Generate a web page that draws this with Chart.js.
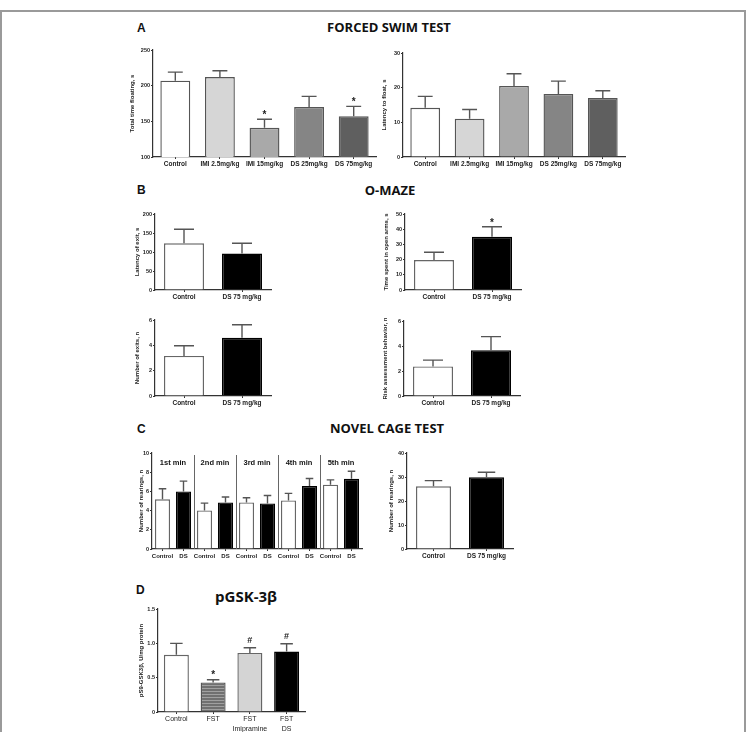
<!DOCTYPE html>
<html lang="en">
<head>
  <meta charset="UTF-8">
  <title>Behaviour panels</title>
  <style>
    body { margin:0; background:#fff; width:746px; height:732px; position:relative; overflow:hidden; font-family:"Liberation Sans", Arial, sans-serif; }
    .frame { position:absolute; left:0; top:10px; width:742px; height:730px; border:2px solid #9a9a9a; border-bottom:none; }
    .lbl { position:absolute; font-weight:bold; font-size:12px; color:#111; transform:translateY(-50%); }
    .ttl { position:absolute; font-family:"Open Sans", sans-serif; font-weight:bold; font-size:13px; color:#111; transform:translate(-50%,-50%); white-space:nowrap; }
  </style>
</head>
<body>
<div class="frame"></div>
<div class="lbl" style="left:137px;top:28px">A</div>
<div class="ttl" style="left:389px;top:27px">FORCED SWIM TEST</div>
<div class="lbl" style="left:137px;top:190px">B</div>
<div class="ttl" style="left:390px;top:190px">O-MAZE</div>
<div class="lbl" style="left:137px;top:429px">C</div>
<div class="ttl" style="left:387px;top:428px">NOVEL CAGE TEST</div>
<div class="lbl" style="left:136px;top:590px">D</div>
<div class="ttl" style="left:246px;top:596px;font-size:15px">pGSK-3β</div>

<script src="https://cdn.jsdelivr.net/npm/chart.js"></script>
<script>
  // ---- data ----
  const fstGroups = ['Control', 'IMI 2.5mg/kg', 'IMI 15mg/kg', 'DS 25mg/kg', 'DS 75mg/kg'];
  const floating = [207, 212, 141, 170, 157];
  const floatingErr = [219, 221, 153, 185, 171];
  const floatingMarks = ['', '', '*', '', '*'];
  const latency = [14.2, 11.0, 20.5, 18.2, 17.0];
  const latencyErr = [17.5, 13.7, 24.0, 21.9, 19.1];

  const mazeGroups = ['Control', 'DS 75 mg/kg'];
  const exitLatency = [123, 96];
  const exitLatencyErr = [160, 123];
  const openArms = [19.7, 35];
  const openArmsErr = [24.8, 41.6];
  const openArmsMarks = ['', '*'];
  const exits = [3.16, 4.6];
  const exitsErr = [3.97, 5.62];
  const risk = [2.37, 3.66];
  const riskErr = [2.87, 4.75];

  const minutes = ['1st min', '2nd min', '3rd min', '4th min', '5th min'];
  const rearCtrl = [5.17, 4.02, 4.85, 5.06, 6.7];
  const rearCtrlErr = [6.28, 4.78, 5.34, 5.79, 7.2];
  const rearDS = [6.0, 4.85, 4.75, 6.55, 7.32];
  const rearDSErr = [7.07, 5.41, 5.58, 7.35, 8.1];
  const rearTotal = [26.1, 29.9];
  const rearTotalErr = [28.5, 32];

  const gskGroups = ['Control', 'FST', ['FST', 'Imipramine'], ['FST', 'DS']];
  const gsk = [0.834, 0.43, 0.86, 0.88];
  const gskErr = [1.0, 0.47, 0.936, 0.994];
  const gskMarks = ['', '*', '#', '#'];

  const FONT = '"Liberation Sans", Arial, sans-serif';
  const AXIS = '#333';

  // striped fill for the FST bar
  const pc = document.createElement('canvas');
  pc.width = 4; pc.height = 3;
  const px = pc.getContext('2d');
  px.fillStyle = '#707070'; px.fillRect(0, 0, 4, 3);
  px.fillStyle = '#a0a0a0'; px.fillRect(0, 0, 4, 1);
  const stripes = px.createPattern(pc, 'repeat');

  // error bars (upper only), significance marks, group separators
  const extras = {
    id: 'extras',
    afterDatasetsDraw(chart, args, o) {
      const ctx = chart.ctx, ys = chart.scales.y, xs = chart.scales.x;
      const els = chart.getDatasetMeta(0).data;
      const area = chart.chartArea;
      ctx.save();
      if (o.groups) {
        ctx.strokeStyle = '#666'; ctx.lineWidth = 1;
        for (let g = 1; g < o.groups.length; g++) {
          const x = Math.round((xs.getPixelForValue(2 * g - 1) + xs.getPixelForValue(2 * g)) / 2) + 0.5;
          ctx.beginPath(); ctx.moveTo(x, area.top + 2); ctx.lineTo(x, area.bottom); ctx.stroke();
        }
        ctx.fillStyle = '#111'; ctx.font = 'bold 7.5px ' + FONT;
        ctx.textAlign = 'center'; ctx.textBaseline = 'middle';
        o.groups.forEach((t, g) => {
          const x = (xs.getPixelForValue(2 * g) + xs.getPixelForValue(2 * g + 1)) / 2;
          ctx.fillText(t, x, area.top + 10);
        });
      }
      ctx.strokeStyle = o.color || '#555';
      ctx.lineWidth = 1.4;
      els.forEach((el, i) => {
        const ye = ys.getPixelForValue(o.err[i]);
        const hw = el.width * 0.25;
        ctx.beginPath();
        ctx.moveTo(el.x, el.y); ctx.lineTo(el.x, ye);
        ctx.moveTo(el.x - hw, ye); ctx.lineTo(el.x + hw, ye);
        ctx.stroke();
        const m = o.marks && o.marks[i];
        if (m) {
          ctx.fillStyle = '#222';
          ctx.textAlign = 'center'; ctx.textBaseline = 'middle';
          ctx.font = (m === '*' ? 'bold 10px ' : 'bold 9px ') + FONT;
          ctx.fillText(m, el.x, ye - (m === '*' ? 4 : 7));
        }
      });
      ctx.restore();
    }
  };

  function panel(o) {
    const W = o.yw, padT = 8, padR = 4, H = o.xh || 22;
    const w = Math.round(o.x1 - o.x0 + W + padR), h = Math.round(o.yBot - o.yTop + padT + H);
    const c = document.createElement('canvas');
    c.width = w; c.height = h;
    c.style.cssText = 'position:absolute;left:' + Math.round(o.x0 - W) + 'px;top:' + Math.round(o.yTop - padT) + 'px;width:' + w + 'px;height:' + h + 'px';
    document.body.appendChild(c);
    new Chart(c, {
      type: 'bar',
      data: {
        labels: o.labels,
        datasets: [{
          data: o.data,
          backgroundColor: o.fill,
          borderColor: o.border,
          borderWidth: 1.4,
          borderSkipped: 'bottom',
          barPercentage: o.bp || 0.67,
          categoryPercentage: 1
        }]
      },
      options: {
        responsive: false,
        animation: false,
        layout: { padding: { top: padT, right: padR, left: 0, bottom: 0 } },
        plugins: {
          legend: { display: false },
          tooltip: { enabled: false },
          extras: { err: o.err, marks: o.marks, groups: o.groups }
        },
        scales: {
          x: {
            afterFit: s => { s.height = H; },
            grid: { display: true, drawOnChartArea: false, offset: false, tickLength: 2, color: AXIS },
            border: { color: AXIS, width: 1.2 },
            ticks: { autoSkip: false, maxRotation: 0, padding: 1, color: '#222',
                     font: { family: FONT, size: o.xfs || 6.5, weight: o.xbold === false ? 'normal' : 'bold', lineHeight: 1.3 } }
          },
          y: {
            min: o.min, max: o.max,
            afterFit: s => { s.width = W; },
            grid: { display: true, drawOnChartArea: false, tickLength: 2, color: AXIS },
            border: { color: AXIS, width: 1.2 },
            ticks: { stepSize: o.step, padding: 1, color: '#222', font: { family: FONT, size: 5.5, weight: 'bold' } },
            title: { display: true, text: o.title, padding: 0, color: '#222', font: { family: FONT, size: 6, weight: 'bold' } }
          }
        }
      },
      plugins: [extras]
    });
  }

  const fstFill = ['#ffffff', '#d6d6d6', '#a9a9a9', '#858585', '#5f5f5f'];
  const pair = ['#ffffff', '#000000'];
  const pairBorder = ['#666666', '#000000'];

  panel({ x0: 153, x1: 376, yTop: 50, yBot: 157, yw: 24, min: 100, max: 250, step: 50,
          labels: fstGroups, data: floating, err: floatingErr, marks: floatingMarks,
          fill: fstFill, border: '#555', title: 'Total time floating, s' });
  panel({ x0: 403, x1: 625, yTop: 52.7, yBot: 156.7, yw: 22, min: 0, max: 30, step: 10,
          labels: fstGroups, data: latency, err: latencyErr,
          fill: fstFill, border: '#555', title: 'Latency to float, s' });

  panel({ x0: 155, x1: 271, yTop: 214, yBot: 290, yw: 21, min: 0, max: 200, step: 50, bp: 0.69,
          labels: mazeGroups, data: exitLatency, err: exitLatencyErr,
          fill: pair, border: pairBorder, title: 'Latency of exit, s' });
  panel({ x0: 405, x1: 521, yTop: 214, yBot: 290, yw: 22, min: 0, max: 50, step: 10, bp: 0.69,
          labels: mazeGroups, data: openArms, err: openArmsErr, marks: openArmsMarks,
          fill: pair, border: pairBorder, title: 'Time spent in open arms, s' });
  panel({ x0: 155, x1: 271, yTop: 319.7, yBot: 396, yw: 21, min: 0, max: 6, step: 2, bp: 0.69,
          labels: mazeGroups, data: exits, err: exitsErr,
          fill: pair, border: pairBorder, title: 'Number of exits, n' });
  panel({ x0: 404, x1: 520, yTop: 320.7, yBot: 396, yw: 22, min: 0, max: 6, step: 2, bp: 0.69,
          labels: mazeGroups, data: risk, err: riskErr,
          fill: pair, border: pairBorder, title: 'Risk assessment behavior, n' });

  // 1st..5th minute: Control / DS pairs side by side
  const perMinLabels = [], perMin = [], perMinErr = [], perMinFill = [], perMinBorder = [];
  minutes.forEach((m, i) => {
    perMinLabels.push('Control', 'DS');
    perMin.push(rearCtrl[i], rearDS[i]);
    perMinErr.push(rearCtrlErr[i], rearDSErr[i]);
    perMinFill.push(pair[0], pair[1]);
    perMinBorder.push(pairBorder[0], pairBorder[1]);
  });
  panel({ x0: 152, x1: 362, yTop: 452.7, yBot: 548.6, yw: 14, min: 0, max: 10, step: 2, bp: 0.72, xfs: 6,
          labels: perMinLabels, data: perMin, err: perMinErr, groups: minutes,
          fill: perMinFill, border: perMinBorder, title: 'Number of rearings, n' });
  panel({ x0: 407, x1: 513, yTop: 452.7, yBot: 549, yw: 19, min: 0, max: 40, step: 10, bp: 0.66,
          labels: mazeGroups, data: rearTotal, err: rearTotalErr,
          fill: pair, border: pairBorder, title: 'Number of rearings, n' });

  panel({ x0: 158, x1: 305, yTop: 609.3, yBot: 712.3, yw: 20, min: 0, max: 1.5, step: 0.5, bp: 0.68,
          xh: 26, xfs: 7, xbold: false,
          labels: gskGroups, data: gsk, err: gskErr, marks: gskMarks,
          fill: ['#ffffff', stripes, '#d4d4d4', '#000000'], border: ['#666', '#555', '#666', '#000'],
          title: 'pS9-GSK3β, U/mg protein' });
</script>
</body>
</html>
